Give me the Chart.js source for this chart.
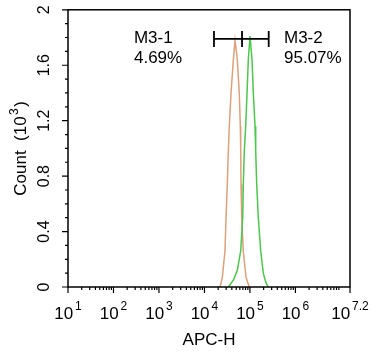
<!DOCTYPE html>
<html>
<head>
<meta charset="utf-8">
<script src="https://cdn.jsdelivr.net/npm/chart.js@4"></script>
<style>
  body { margin: 0; background: #fff; }
</style>
</head>
<body>
<canvas id="chart" width="379" height="362"></canvas>
<script>
// APC-H fluorescence (log) vs count (x10^3)
const orangeX = [22000, 24700, 28300, 29800, 31800, 33500, 35200, 38400, 43200, 47000,
  52800, 58300, 61500, 62700, 63700, 65900, 71400, 82000, 96800];
const orangeY = [0, 0.07, 0.26, 0.50, 0.74, 0.98, 1.16, 1.40, 1.64, 1.78,
  1.64, 1.40, 1.16, 0.98, 0.74, 0.50, 0.26, 0.07, 0];

const greenX = [33500, 43200, 52800, 62700, 69300, 71400, 75200, 80700, 86300, 92100, 100500,
  111200, 118700, 129400, 134000, 140900, 152800, 172600, 196800, 225700, 253300];
const greenY = [0, 0.05, 0.12, 0.26, 0.50, 0.74, 0.98, 1.16, 1.40, 1.64, 1.81,
  1.64, 1.40, 1.16, 0.98, 0.74, 0.50, 0.26, 0.10, 0.03, 0];

// gate M3-1 | M3-2
const gateX = [16200, 67000, 258700];
const gateY = 1.79;
const gateNames = ["M3-1", "M3-2"];
const gatePercents = ["4.69%", "95.07%"];
const gateLabelX = [282, 561000];

const xTickExps = [1, 2, 3, 4, 5, 6, 7.2];
const xTickLabels = ["1", "2", "3", "4", "5", "6", "7.2"];
const yTicks = [0, 0.4, 0.8, 1.2, 1.6, 2];
const yTickLabels = ["0", "0.4", "0.8", "1.2", "1.6", "2"];

const FONT = '"Liberation Sans", Arial, sans-serif';

function pts(xs, ys) {
  return xs.map((x, i) => ({ x: x, y: ys[i] }));
}

// axes, ticks, labels and gate text drawn off the chart's own scales
const decorations = {
  id: "decorations",
  afterDraw(chart) {
    const ctx = chart.ctx;
    const xs = chart.scales.x;
    const ys = chart.scales.y;
    const a = chart.chartArea;
    ctx.save();
    ctx.strokeStyle = "#000";
    ctx.fillStyle = "#000";
    ctx.lineWidth = 1.5;
    ctx.strokeRect(a.left, a.top, a.right - a.left, a.bottom - a.top);

    // x ticks
    ctx.lineWidth = 1.2;
    ctx.beginPath();
    xTickExps.forEach((e) => {
      const px = xs.getPixelForValue(Math.pow(10, e));
      ctx.moveTo(px, a.bottom);
      ctx.lineTo(px, a.bottom + 6);
    });
    for (let d = 1; d <= 7; d++) {
      for (let m = 2; m <= 9; m++) {
        const v = m * Math.pow(10, d);
        if (v >= xs.max) continue;
        const px = xs.getPixelForValue(v);
        ctx.moveTo(px, a.bottom);
        ctx.lineTo(px, a.bottom + 3);
      }
    }
    // y ticks
    yTicks.forEach((t) => {
      const py = ys.getPixelForValue(t);
      ctx.moveTo(a.left - 6, py);
      ctx.lineTo(a.left, py);
    });
    for (let i = 1; i < 20; i++) {
      if (i % 4 === 0) continue;
      const py = ys.getPixelForValue(i / 10);
      ctx.moveTo(a.left - 3, py);
      ctx.lineTo(a.left, py);
    }
    ctx.stroke();

    // x tick labels 10^n
    ctx.textBaseline = "alphabetic";
    ctx.textAlign = "left";
    xTickExps.forEach((e, i) => {
      const px = xs.getPixelForValue(Math.pow(10, e));
      ctx.font = "17px " + FONT;
      const wBase = ctx.measureText("10").width;
      ctx.font = "12px " + FONT;
      const wSup = ctx.measureText(xTickLabels[i]).width;
      const start = px - (wBase + 2 + wSup) / 2;
      ctx.font = "17px " + FONT;
      ctx.fillText("10", start, 319);
      ctx.font = "12px " + FONT;
      ctx.fillText(xTickLabels[i], start + wBase + 2, 310);
    });

    // y tick labels, rotated
    ctx.font = "16px " + FONT;
    ctx.textAlign = "center";
    ctx.textBaseline = "middle";
    yTicks.forEach((t, i) => {
      const py = ys.getPixelForValue(t);
      ctx.save();
      ctx.translate(45, py);
      ctx.rotate(-Math.PI / 2);
      ctx.fillText(yTickLabels[i], 0, 0);
      ctx.restore();
    });

    // y title
    ctx.save();
    ctx.translate(26, (a.top + a.bottom) / 2);
    ctx.rotate(-Math.PI / 2);
    ctx.textBaseline = "alphabetic";
    ctx.textAlign = "left";
    ctx.font = "17px " + FONT;
    const t1 = "Count  (10";
    const w1 = ctx.measureText(t1).width;
    ctx.font = "12px " + FONT;
    const w2 = ctx.measureText("3").width;
    ctx.font = "17px " + FONT;
    const w3 = ctx.measureText(")").width;
    const s = -(w1 + w2 + 3 + w3) / 2;
    ctx.fillText(t1, s, 0);
    ctx.font = "12px " + FONT;
    ctx.fillText("3", s + w1 + 1.5, -8);
    ctx.font = "17px " + FONT;
    ctx.fillText(")", s + w1 + w2 + 3, 0);
    ctx.restore();

    // x title
    ctx.font = "17px " + FONT;
    ctx.textAlign = "center";
    ctx.textBaseline = "alphabetic";
    ctx.fillText("APC-H", (a.left + a.right) / 2, 345);

    // gate labels
    ctx.textAlign = "left";
    const gy = ys.getPixelForValue(gateY);
    gateNames.forEach((n, i) => {
      const gx = xs.getPixelForValue(gateLabelX[i]);
      ctx.fillText(n, gx, gy + 4);
      ctx.fillText(gatePercents[i], gx, gy + 24);
    });
    ctx.restore();
  }
};

new Chart(document.getElementById("chart"), {
  type: "scatter",
  data: {
    datasets: [
      {
        data: gateX.map((x) => ({ x: x, y: gateY })),
        showLine: true,
        borderColor: "#000",
        borderWidth: 1.8,
        pointStyle: "line",
        rotation: 90,
        pointRadius: 8,
        pointBorderWidth: 1.8,
        pointBorderColor: "#000"
      },
      {
        data: pts(greenX, greenY),
        showLine: true,
        borderColor: "#4cc64c",
        borderWidth: 1.5,
        pointRadius: 0,
        tension: 0
      },
      {
        data: pts(orangeX, orangeY),
        showLine: true,
        borderColor: "#dca07a",
        borderWidth: 1.5,
        pointRadius: 0,
        tension: 0
      }
    ]
  },
  options: {
    responsive: false,
    animation: false,
    layout: { padding: { top: 7, right: 29, left: 0, bottom: 0 } },
    plugins: { legend: { display: false }, tooltip: { enabled: false } },
    scales: {
      x: {
        type: "logarithmic",
        min: 10,
        max: Math.pow(10, 7.2),
        afterBuildTicks: (scale) => {
          scale.ticks = xTickExps.map((e) => ({ value: Math.pow(10, e) }));
        },
        afterFit: (scale) => { scale.height = 75; },
        ticks: { display: false },
        grid: { display: false },
        border: { display: false }
      },
      y: {
        min: 0,
        max: 2,
        afterBuildTicks: (scale) => {
          scale.ticks = yTicks.map((v) => ({ value: v }));
        },
        afterFit: (scale) => { scale.width = 68; },
        ticks: { display: false },
        grid: { display: false },
        border: { display: false }
      }
    }
  },
  plugins: [decorations]
});
</script>
</body>
</html>
